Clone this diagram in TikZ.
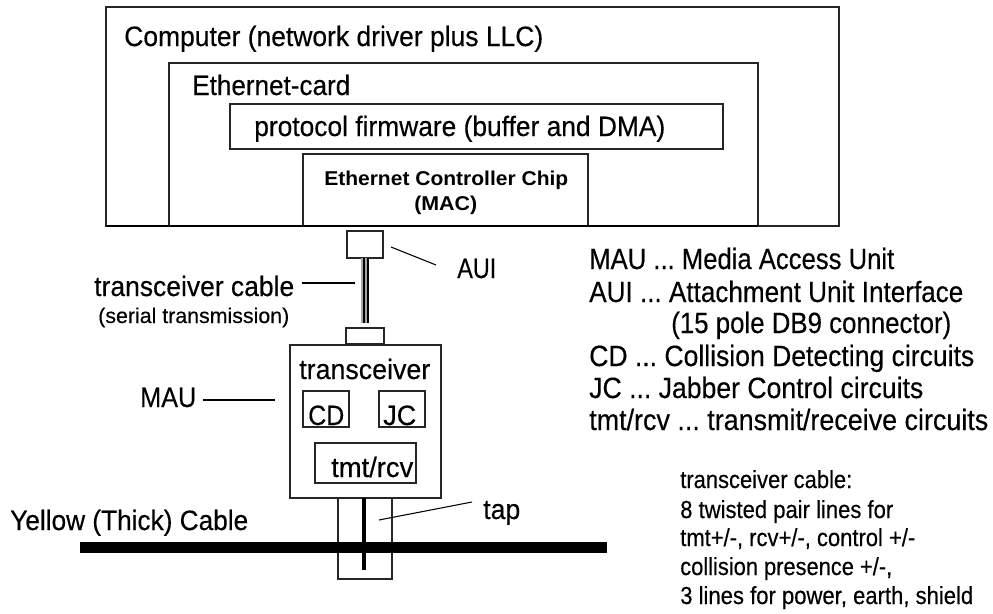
\documentclass[tikz,border=0pt]{standalone}
\usepackage{graphicx}
\usepackage{fontspec}
\setmainfont{Liberation Sans}
\newfontfamily\hvheavy[FakeBold=0.35]{Liberation Sans}
\frenchspacing
\tikzset{
 px/.style={x=0.75pt,y=-0.75pt},
 boxa/.style={draw=black!85,line width=0.9pt,inner sep=0pt},
 lbl/.style={inner sep=0pt,anchor=base west},
 lead/.style={draw=black,line width=0.8pt},
 wire/.style={draw=black,line width=1.1pt},
 plug/.style={draw=black!85,line width=0.9pt,inner sep=0pt},
}
% name, x, baseline y, width in px, size in pt, text
\newcommand{\lab}[6]{\node[lbl] (#1) at (#2,#3) {\hvheavy\fontsize{#5}{#5}\selectfont\resizebox{\dimexpr#4pt*3/4\relax}{\height}{#6}};}
\begin{document}
\begin{tikzpicture}[px]
\useasboundingbox (0,0) rectangle (993,614);
\draw[boxa] (106,7) rectangle (839,226);
\draw[boxa] (169,63) rectangle (758,226);
\draw[boxa] (230,104) rectangle (723,149);
\draw[boxa] (303,154) rectangle (588,226);
\draw[line width=1.4pt] (106,226) -- (758,226);
\lab{comp}{124}{46}{419}{21}{Computer (network driver plus LLC)}
\lab{card}{192}{95}{158}{21}{Ethernet-card}
\lab{fw}{254}{136}{411}{21}{protocol firmware (buffer and DMA)}
\lab{chipa}{324}{185}{244}{15}{\normalfont\bfseries Ethernet Controller Chip}
\lab{chipb}{414}{210}{63}{15}{\normalfont\bfseries (MAC)}
% AUI plug and cable
\node[plug,minimum width=27pt,minimum height=20.25pt] (aui) at (365,244.5) {};
\fill[black!35] (361,258) rectangle (369,323);
\draw[wire] (364,258) -- (364,323);
\draw[wire] (368,258) -- (368,323);
\node[plug,minimum width=28.5pt,minimum height=12pt] (conn) at (365,336) {};
% transceiver
\draw[boxa] (290,345) rectangle (441,498);
\draw[boxa] (303,391) rectangle (349,427);
\draw[boxa] (379,391) rectangle (425,427);
\draw[boxa] (315,443) rectangle (416,483);
\lab{trt}{299}{379}{131}{21}{transceiver}
\lab{cdt}{308}{425}{36}{21}{CD}
\lab{jct}{383}{425}{33}{21}{JC}
\lab{tmt}{331}{477}{82}{21}{tmt/rcv}
% tap
\draw[boxa] (338,498) rectangle (392,579);
\fill (80,542) rectangle (607,553);
\draw[line width=2.4pt] (364,498) -- (364,570);
\lab{yc}{10}{530}{238}{21}{Yellow (Thick) Cable}
\lab{tap}{483}{519}{37}{21}{tap}
\coordinate (tapa) at (379,520); \coordinate (tapb) at (472,502);
\draw[lead] (tapa) -- (tapb);
\lab{auit}{457}{278}{39}{21}{AUI}
\coordinate (a1) at (391,247); \coordinate (a2) at (436,265);
\draw[lead] (a1) -- (a2);
\lab{tc}{94}{296}{200}{21}{transceiver cable}
\lab{st}{98}{323}{191}{16}{(serial transmission)}
\coordinate (b1) at (302,283); \coordinate (b2) at (355,283);
\draw[lead] (b1) -- (b2);
\lab{mau}{140}{407}{56}{21}{MAU}
\coordinate (c1) at (203,400); \coordinate (c2) at (275,400);
\draw[lead] (c1) -- (c2);
\lab{l1}{589}{269}{305}{22}{MAU ... Media Access Unit}
\lab{l2}{589}{302}{374}{22}{AUI ... Attachment Unit Interface}
\lab{l3}{671}{333}{280}{22}{(15 pole DB9 connector)}
\lab{l4}{589}{366}{385}{22}{CD ... Collision Detecting circuits}
\lab{l5}{589}{398}{334}{22}{JC ... Jabber Control circuits}
\lab{l6}{589}{430}{399}{22}{tmt/rcv ... transmit/receive circuits}
\lab{s1}{680}{488}{172}{18.5}{transceiver cable:}
\lab{s2}{680}{518}{213}{18.5}{8 twisted pair lines for}
\lab{s3}{680}{546}{235}{18.5}{tmt+/-, rcv+/-, control +/-}
\lab{s4}{680}{575}{212}{18.5}{collision presence +/-,}
\lab{s5}{680}{604}{293}{18.5}{3 lines for power, earth, shield}
\end{tikzpicture}
\end{document}
